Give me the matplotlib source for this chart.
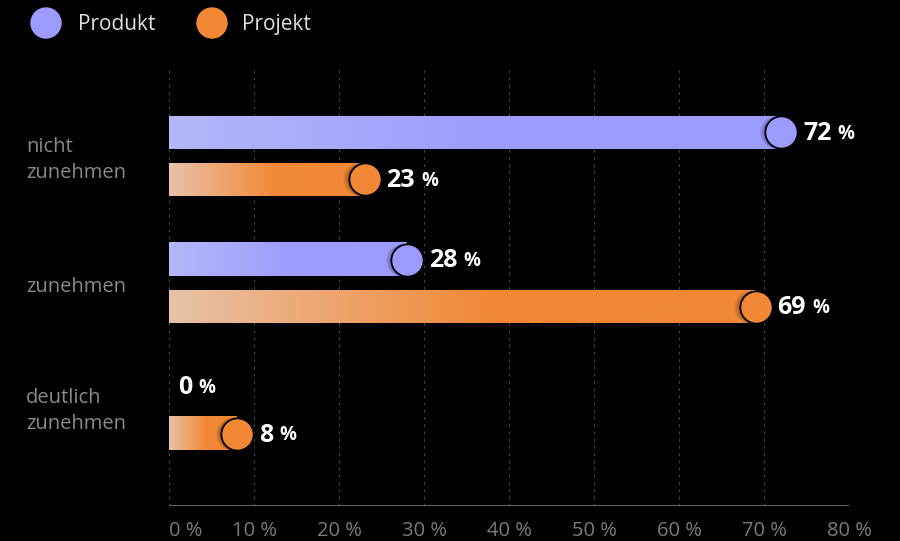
import numpy as np
import matplotlib
matplotlib.use("Agg")
import matplotlib.pyplot as plt
from matplotlib.patches import Circle
from matplotlib.colors import to_rgb

plt.rcParams['font.family'] = ['Open Sans', 'Noto Sans', 'DejaVu Sans']

categories = ["nicht\nzunehmen", "zunehmen", "deutlich\nzunehmen"]
series_names = ["Produkt", "Projekt"]
produkt = [72, 28, 0]
projekt = [23, 69, 8]
tick_values = [0, 10, 20, 30, 40, 50, 60, 70, 80]
tick_labels = [f"{v} %" for v in tick_values]

colors_full = ["#9d9bff", "#f28835"]
colors_light = ["#b2b8f8", "#e8c2a8"]

W, H = 900, 541
fig = plt.figure(figsize=(W / 100, H / 100), dpi=100, facecolor="black")

ov = fig.add_axes([0, 0, 1, 1], zorder=0)
ov.set_xlim(0, W)
ov.set_ylim(H, 0)
ov.axis("off")
ov.patch.set_alpha(0)

ax_left, ax_right, ax_top, ax_bottom = 169, 849, 68, 506
ax = fig.add_axes([ax_left / W, (H - ax_bottom) / H, (ax_right - ax_left) / W, (ax_bottom - ax_top) / H], zorder=1)
ax.set_facecolor("none")

group_px = 127.0
ylim_top = -(156 - ax_top) / group_px
ylim_bot = (ax_bottom - 156) / group_px
ax.set_xlim(0, 80)
ax.set_ylim(ylim_bot, ylim_top)

px_per_x = (ax_right - ax_left) / 80.0
px_per_y = group_px
offset = 23.5 / group_px
bar_h = 33 / group_px

for v in tick_values:
    ax.axvline(v, color="#444444", lw=0.8, ls=(0, (2.5, 4)), zorder=0)
ax.axhline(ylim_bot, color="#666666", lw=2.2, zorder=1)

def gradient_img(c_light, c_full, n=256, frac=0.55):
    a = np.array(to_rgb(c_light))
    b = np.array(to_rgb(c_full))
    t = np.clip(np.linspace(0, 1, n) / frac, 0, 1)
    img = a[None, :] * (1 - t[:, None]) + b[None, :] * t[:, None]
    return img[None, :, :]

for si, vals in enumerate([produkt, projekt]):
    for gi, v in enumerate(vals):
        yc = gi + (-offset if si == 0 else offset)
        if v > 0:
            ax.imshow(gradient_img(colors_light[si], colors_full[si]),
                      extent=[0, v, yc + bar_h / 2, yc - bar_h / 2],
                      aspect="auto", zorder=2, interpolation="bilinear")
            for k in range(1, 7):
                ax.scatter([v - k * 0.9 / px_per_x], [yc], s=560, color="black",
                           alpha=0.05, linewidths=0, zorder=3)
            ax.scatter([v], [yc], s=540, color=colors_full[si], edgecolors="black",
                       linewidths=1.3, zorder=4)
            dx = 22 / px_per_x
        else:
            dx = 9 / px_per_x
        t = ax.text(v + dx, yc + 1.5 / px_per_y, f"{v}", color="white", fontsize=18,
                    fontweight="bold", va="center", ha="left", zorder=5)
        ax.annotate("%", xy=(1, 0), xycoords=t, xytext=(4.5, 1.5), textcoords="offset points",
                    color="white", fontsize=13.5, fontweight="bold", va="bottom", ha="left", zorder=5)

ax.set_xticks(tick_values)
ax.set_xticklabels(tick_labels, color="#7b7b7b", fontsize=14.5)
ax.get_xticklabels()[0].set_ha("left")
ax.tick_params(axis="x", length=0, pad=11)
ax.set_yticks([])
for s in ax.spines.values():
    s.set_visible(False)

label_y = [160, 287, 411]
for cat, y in zip(categories, label_y):
    ov.text(26, y, cat, color="#8a8a8a", fontsize=14.5, va="center", ha="left", linespacing=1.35)

leg = [(46, 23, 78), (212, 23, 242)]
for (cx, cy, tx), name, col in zip(leg, series_names, colors_full):
    ov.add_patch(Circle((cx, cy), 15, color=col))
    ov.text(tx, cy + 1.5, name, color="#e0e0e0", fontsize=15, va="center", ha="left")

fig.savefig("out.png", dpi=100, facecolor="black")
